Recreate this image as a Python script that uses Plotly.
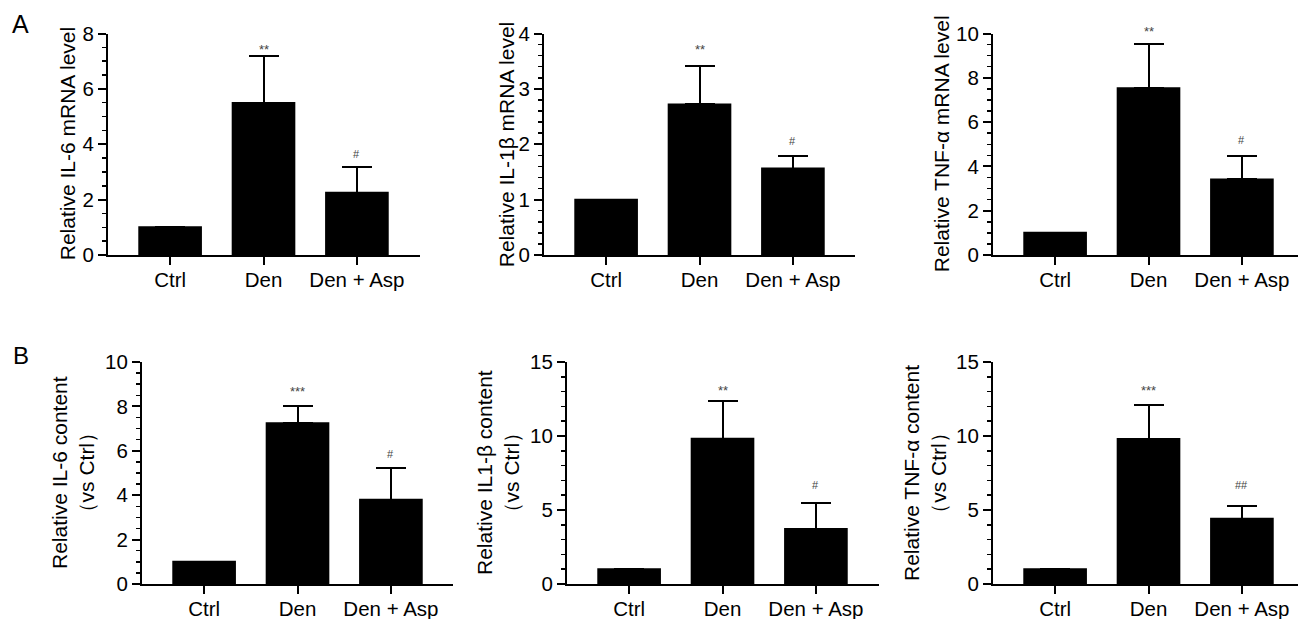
import plotly.graph_objects as go

# ---------------- data ----------------
categories = ["Ctrl", "Den", "Den + Asp"]

il6_mrna = [1.0, 5.49, 2.25]
il6_mrna_sd = [None, 1.70, 0.92]
il6_mrna_sig = ["", "**", "#"]

il1b_mrna = [1.0, 2.72, 1.56]
il1b_mrna_sd = [None, 0.69, 0.22]
il1b_mrna_sig = ["", "**", "#"]

tnfa_mrna = [1.0, 7.53, 3.41]
tnfa_mrna_sd = [None, 1.99, 1.05]
tnfa_mrna_sig = ["", "**", "#"]

il6_content = [1.0, 7.24, 3.80]
il6_content_sd = [None, 0.79, 1.44]
il6_content_sig = ["", "***", "#"]

il1b_content = [1.0, 9.82, 3.72]
il1b_content_sd = [None, 2.52, 1.75]
il1b_content_sig = ["", "**", "#"]

tnfa_content = [1.0, 9.80, 4.41]
tnfa_content_sd = [None, 2.30, 0.84]
tnfa_content_sig = ["", "***", "##"]

titles = [
    "Relative IL-6 mRNA level",
    "Relative IL-1β mRNA level",
    "Relative TNF-α mRNA level",
    "Relative IL-6 content<br>（vs Ctrl）",
    "Relative IL1-β content<br>（vs Ctrl）",
    "Relative TNF-α content<br>（vs Ctrl）",
]

# ---------------- layout / style ----------------
W, H = 1298, 619
FONT = "Arial, Liberation Sans, sans-serif"
SPACING = 93.4  # px per category

panels = [
    dict(v=il6_mrna, e=il6_mrna_sd, s=il6_mrna_sig, ymax=8, dt=2, mdt=0.5, xd=(108, 420), yd=(33.5, 255), ts=-41, ss=[0, -6, 2]),
    dict(v=il1b_mrna, e=il1b_mrna_sd, s=il1b_mrna_sig, ymax=4, dt=1, mdt=0.2, xd=(544, 855), yd=(33.5, 255), ts=-38, ss=[0, 4, 4]),
    dict(v=tnfa_mrna, e=tnfa_mrna_sd, s=tnfa_mrna_sig, ymax=10, dt=2, mdt=0.5, xd=(993, 1298), yd=(33.5, 255), ts=-52, ss=[0, 0, 5]),
    dict(v=il6_content, e=il6_content_sd, s=il6_content_sig, ymax=10, dt=2, mdt=0.5, xd=(142, 453), yd=(362, 584), ts=-69, ss=[0, 2, 3]),
    dict(v=il1b_content, e=il1b_content_sd, s=il1b_content_sig, ymax=15, dt=5, mdt=1, xd=(567, 879), yd=(362, 584), ts=-69, ss=[0, -2, 7]),
    dict(v=tnfa_content, e=tnfa_content_sd, s=tnfa_content_sig, ymax=15, dt=5, mdt=1, xd=(993, 1298), yd=(362, 584), ts=-68, ss=[0, 2, 10]),
]

fig = go.Figure()
annotations = []
layout = {}

for i, p in enumerate(panels):
    ax = "" if i == 0 else str(i + 1)
    # bars + upward error bars
    fig.add_trace(go.Bar(
        x=categories, y=p["v"], width=0.66,
        marker=dict(color="black", line=dict(width=0)),
        error_y=dict(type="data", array=p["e"], arrayminus=[0] * len(p["e"]),
                     symmetric=False, color="black", thickness=2, width=15),
        xaxis="x" + ax, yaxis="y" + ax, showlegend=False, hoverinfo="skip",
    ))
    # same bars again on top, so only the upper half of each error bar shows
    fig.add_trace(go.Bar(
        x=categories, y=p["v"], width=0.66,
        marker=dict(color="black", line=dict(width=2, color="black")),
        xaxis="x" + ax, yaxis="y" + ax, showlegend=False, hoverinfo="skip",
    ))
    x0, x1 = p["xd"]
    y0, y1 = p["yd"]
    left = -0.665
    layout["xaxis" + ax] = dict(
        domain=[x0 / W, x1 / W], anchor="y" + ax, type="category",
        categoryorder="array", categoryarray=categories,
        range=[left, left + (x1 - x0) / SPACING], automargin=False,
        showline=True, linewidth=2, linecolor="black",
        ticks="outside", ticklen=8, tickwidth=2, tickcolor="black",
        ticklabelstandoff=-3,
        tickfont=dict(family=FONT, size=20.5, color="black"),
        showgrid=False, zeroline=False, fixedrange=True,
    )
    layout["yaxis" + ax] = dict(
        domain=[1 - y1 / H, 1 - y0 / H], anchor="x" + ax, automargin=False,
        range=[0, p["ymax"]], dtick=p["dt"], tick0=0,
        showline=True, linewidth=2, linecolor="black",
        ticks="outside", ticklen=8, tickwidth=2, tickcolor="black",
        tickfont=dict(family=FONT, size=20.5, color="black"),
        minor=dict(dtick=p["mdt"], ticks="outside", ticklen=4, tickwidth=1.5, tickcolor="black"),
        showgrid=False, zeroline=False, fixedrange=True,
    )
    # axis title
    annotations.append(dict(
        text=titles[i], xref="x" + ax + " domain", yref="y" + ax + " domain",
        x=0, y=0.5, xshift=p["ts"], textangle=-90, showarrow=False,
        xanchor="center", yanchor="middle",
        font=dict(family=FONT, size=21, color="black"),
    ))
    # significance marks
    for c, val, err, sig, sh in zip(categories, p["v"], p["e"], p["s"], p["ss"]):
        if sig:
            annotations.append(dict(
                text=sig, x=c, y=val + err, xref="x" + ax, yref="y" + ax,
                showarrow=False, xanchor="center", yanchor="bottom", yshift=3 + sh,
                font=dict(family=FONT, size=13 if "*" in sig else 11, color="#444444"),
            ))

annotations.append(dict(text="A", xref="paper", yref="paper", x=20 / W, y=1 - 24 / H,
                        showarrow=False, xanchor="center", yanchor="middle",
                        font=dict(family=FONT, size=25, color="black")))
annotations.append(dict(text="B", xref="paper", yref="paper", x=21 / W, y=1 - 355 / H,
                        showarrow=False, xanchor="center", yanchor="middle",
                        font=dict(family=FONT, size=24, color="black")))

fig.update_layout(
    template="none", barmode="overlay",
    width=W, height=H, margin=dict(l=0, r=0, t=0, b=0, pad=0, autoexpand=False),
    paper_bgcolor="white", plot_bgcolor="white",
    annotations=annotations, bargap=0, **layout,
)

fig.write_html(
    "out.html",
    config={"displayModeBar": False, "staticPlot": True},
    post_script="document.body.style.margin='0px';document.body.style.overflow='hidden';",
)
